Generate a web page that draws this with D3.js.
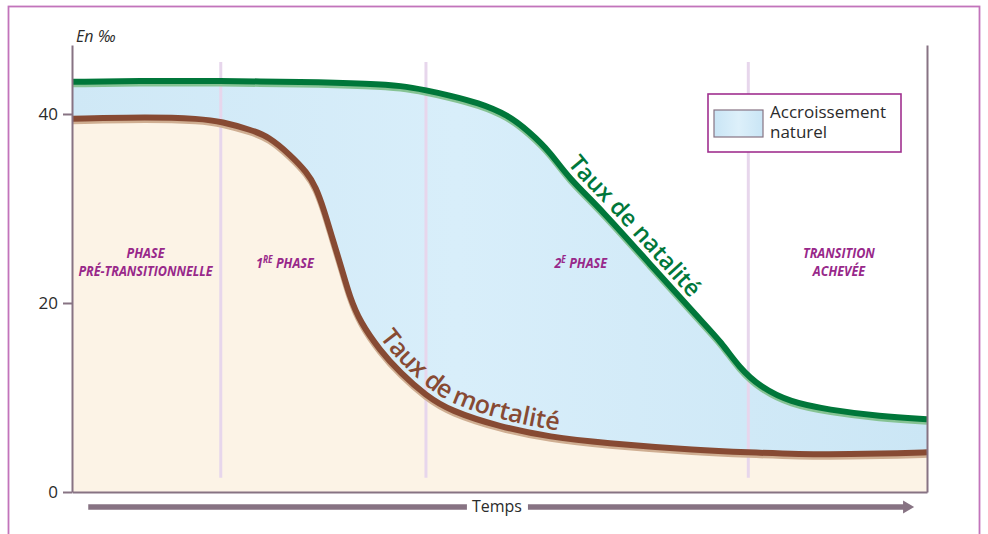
<!DOCTYPE html>
<html>
<head>
<meta charset="utf-8">
<script src="https://cdn.jsdelivr.net/npm/d3@7"></script>
<style>
  body { margin: 0; background: #fff; }
  svg { display: block; }
</style>
</head>
<body>
<div id="chart"></div>
<script>
// Time runs 0 -> 100 (no units), rates in per mille
const natTime = [0, 9, 17, 27, 35, 38.5, 41.5, 44, 47.5, 51, 53.5, 56, 58, 62, 67.5, 73.5, 76, 78, 80.5, 84, 88.5, 94.5, 100];
const natValue = [43.4, 43.5, 43.5, 43.4, 43.2, 43.0, 42.5, 42.0, 41.2, 39.9, 38.1, 35.9, 33.3, 29.8, 24.2, 18.2, 15.8, 13.2, 11.1, 9.5, 8.7, 8.0, 7.7];

const morTime = [0, 9, 15, 17.5, 21, 23, 25.5, 27.5, 28.5, 29.5, 30.5, 31.5, 32.5, 33.7, 36, 38.4, 41.4, 44.2, 50, 56, 62, 73.5, 79, 85, 91, 97, 100];
const morValue = [39.5, 39.7, 39.5, 39.2, 38.3, 37.6, 35.7, 33.8, 32.3, 29.8, 26.7, 23.8, 20.6, 18.0, 15.0, 12.6, 10.2, 8.6, 6.9, 5.8, 5.2, 4.4, 4.2, 4.0, 4.0, 4.1, 4.2];

const yTicks = [0, 20, 40];
const phaseBreaks = [17.4, 41.4, 79.1];
const phaseNames = ["PHASE|PRÉ-TRANSITIONNELLE", "1^RE PHASE", "2^E PHASE", "TRANSITION|ACHEVÉE"];
const phaseCenters = [8.6, 24.9, 59.5, 89.7];

const natData = natTime.map((t, i) => ({ t, v: natValue[i] }));
const morData = morTime.map((t, i) => ({ t, v: morValue[i] }));

const width = 988, height = 534;
const purple = "#98288a";
const axisColor = "#877383";
const font = "'Open Sans', 'DejaVu Sans', sans-serif";

const svg = d3.select("#chart")
  .append("svg")
  .attr("width", width)
  .attr("height", height);

// outer frame
svg.append("rect")
  .attr("x", 8.5).attr("y", 6.5)
  .attr("width", 971).attr("height", 560)
  .attr("fill", "none")
  .attr("stroke", "#c274bb")
  .attr("stroke-width", 1.8);

const x = d3.scaleLinear().domain([0, 100]).range([72, 927]);
const y = d3.scaleLinear().domain([0, 47.3]).range([492, 45]);

// gradients
const defs = svg.append("defs");
const blue = defs.append("linearGradient").attr("id", "blueFill")
  .attr("x1", "0%").attr("x2", "100%").attr("y1", "0%").attr("y2", "0%");
blue.append("stop").attr("offset", "0%").attr("stop-color", "#cfe8f6");
blue.append("stop").attr("offset", "45%").attr("stop-color", "#d8eefa");
blue.append("stop").attr("offset", "100%").attr("stop-color", "#cbe6f5");

const swatch = defs.append("linearGradient").attr("id", "swatchFill")
  .attr("x1", "0%").attr("x2", "100%").attr("y1", "0%").attr("y2", "0%");
swatch.append("stop").attr("offset", "0%").attr("stop-color", "#c9e5f5");
swatch.append("stop").attr("offset", "50%").attr("stop-color", "#ddf0fa");
swatch.append("stop").attr("offset", "100%").attr("stop-color", "#c9e5f5");

const curve = d3.curveBasis;

// fills: blue under natality, cream under mortality
svg.append("path")
  .datum(natData)
  .attr("fill", "url(#blueFill)")
  .attr("d", d3.area().x(d => x(d.t)).y0(y(0)).y1(d => y(d.v)).curve(curve));

svg.append("path")
  .datum(morData)
  .attr("fill", "#fcf3e6")
  .attr("d", d3.area().x(d => x(d.t)).y0(y(0)).y1(d => y(d.v)).curve(curve));

// phase dividers
svg.selectAll(".divider")
  .data(phaseBreaks)
  .enter()
  .append("line")
  .attr("class", "divider")
  .attr("x1", d => x(d)).attr("x2", d => x(d))
  .attr("y1", y(45.5)).attr("y2", y(1.5))
  .attr("stroke", "#e7d6ec")
  .attr("stroke-width", 3);

// phase labels (squeezed horizontally to look condensed)
phaseNames.forEach((name, i) => {
  const lines = name.split("|");
  const g = svg.append("g")
    .attr("transform", `translate(${x(phaseCenters[i])},0) scale(0.84,1)`);
  const t = g.append("text")
    .attr("text-anchor", "middle")
    .attr("fill", purple)
    .style("font-family", font)
    .style("font-size", "15px")
    .style("font-weight", "bold")
    .style("font-style", "italic");
  const startY = lines.length === 1 ? 268 : 258;
  lines.forEach((ln, j) => {
    const ts = t.append("tspan").attr("x", 0).attr("y", startY + j * 18);
    if (ln.includes("^")) {
      const [num, rest] = ln.split("^");
      const sp = rest.indexOf(" ");
      ts.text(num);
      ts.append("tspan").attr("dy", -5).style("font-size", "10px").text(rest.slice(0, sp));
      ts.append("tspan").attr("dy", 5).text(rest.slice(sp));
    } else {
      ts.text(ln);
    }
  });
});

// curves
const line = d3.line().x(d => x(d.t)).y(d => y(d.v)).curve(curve);

function drawCurve(data, id, dark, light) {
  svg.append("path")
    .datum(data)
    .attr("fill", "none")
    .attr("stroke", light)
    .attr("stroke-width", 6)
    .attr("transform", "translate(0,2.5)")
    .attr("d", line);
  return svg.append("path")
    .datum(data)
    .attr("id", id)
    .attr("fill", "none")
    .attr("stroke", dark)
    .attr("stroke-width", 6)
    .attr("d", line);
}

const morPath = drawCurve(morData, "mor-line", "#874a33", "#cfae92");
const natPath = drawCurve(natData, "nat-line", "#00773a", "#86c394");

function offsetAtX(node, px) {
  let lo = 0, hi = node.getTotalLength();
  for (let k = 0; k < 30; k++) {
    const mid = (lo + hi) / 2;
    if (node.getPointAtLength(mid).x < px) lo = mid; else hi = mid;
  }
  return lo;
}

function curveLabel(pathSel, id, label, startX, color, size) {
  svg.append("text")
    .attr("dy", -7)
    .attr("fill", color)
    .style("font-family", font)
    .style("font-size", size + "px")
    .style("font-weight", 600)
    .append("textPath")
    .attr("href", "#" + id)
    .attr("startOffset", offsetAtX(pathSel.node(), startX))
    .text(label);
}

curveLabel(natPath, "nat-line", "Taux de natalité", 562, "#00773a", 23.5);
curveLabel(morPath, "mor-line", "Taux de mortalité", 374, "#874a33", 25);

// axes
const yAxis = svg.append("g")
  .attr("transform", `translate(${x(0)},0)`)
  .call(d3.axisLeft(y).tickValues(yTicks).tickSize(9).tickSizeOuter(0).tickPadding(5));
yAxis.select(".domain").attr("stroke", axisColor).attr("stroke-width", 2);
yAxis.selectAll(".tick line").attr("stroke", axisColor).attr("stroke-width", 2);
yAxis.selectAll("text")
  .style("font-family", font)
  .style("font-size", "17px")
  .attr("fill", "#2b2b2b");

const rAxis = svg.append("g")
  .attr("transform", `translate(${x(100)},0)`)
  .call(d3.axisRight(y).tickValues([]).tickSizeOuter(0));
rAxis.select(".domain").attr("stroke", axisColor).attr("stroke-width", 2);

const xAxis = svg.append("g")
  .attr("transform", `translate(0,${y(0)})`)
  .call(d3.axisBottom(x).tickValues([]).tickSizeOuter(0));
xAxis.select(".domain").attr("stroke", axisColor).attr("stroke-width", 2);

// axis unit
svg.append("text")
  .attr("x", x(0) + 4)
  .attr("y", 42)
  .attr("fill", "#2b2b2b")
  .style("font-family", font)
  .style("font-size", "16px")
  .style("font-style", "italic")
  .text("En ‰");

// time arrow
const arrowY = 507;
const temps = svg.append("text")
  .attr("x", x(49.7))
  .attr("y", 512)
  .attr("text-anchor", "middle")
  .attr("fill", "#2b2b2b")
  .style("font-family", font)
  .style("font-size", "16px")
  .text("Temps");
const tb = temps.node().getBBox();

svg.append("line")
  .attr("x1", x(1.9)).attr("x2", tb.x - 5)
  .attr("y1", arrowY).attr("y2", arrowY)
  .attr("stroke", axisColor).attr("stroke-width", 5.5);
svg.append("line")
  .attr("x1", tb.x + tb.width + 6).attr("x2", x(97.3))
  .attr("y1", arrowY).attr("y2", arrowY)
  .attr("stroke", axisColor).attr("stroke-width", 5.5);
svg.append("path")
  .attr("d", `M${x(97.2)},${arrowY - 6.5} L${x(98.5)},${arrowY} L${x(97.2)},${arrowY + 6.5} Z`)
  .attr("fill", axisColor);

// legend
const legend = svg.append("g").attr("transform", "translate(708,94)");
legend.append("rect")
  .attr("width", 193).attr("height", 58)
  .attr("fill", "#fff")
  .attr("stroke", "#a0308f")
  .attr("stroke-width", 1.6);
legend.append("rect")
  .attr("x", 6).attr("y", 16)
  .attr("width", 49).attr("height", 27)
  .attr("fill", "url(#swatchFill)")
  .attr("stroke", axisColor)
  .attr("stroke-width", 1.2);
legend.append("text")
  .attr("x", 62).attr("y", 24)
  .attr("fill", "#2b2b2b")
  .style("font-family", font)
  .style("font-size", "17px")
  .selectAll("tspan")
  .data(["Accroissement", "naturel"])
  .enter()
  .append("tspan")
  .attr("x", 62)
  .attr("dy", (d, i) => i === 0 ? 0 : 20)
  .text(d => d);
</script>
</body>
</html>
